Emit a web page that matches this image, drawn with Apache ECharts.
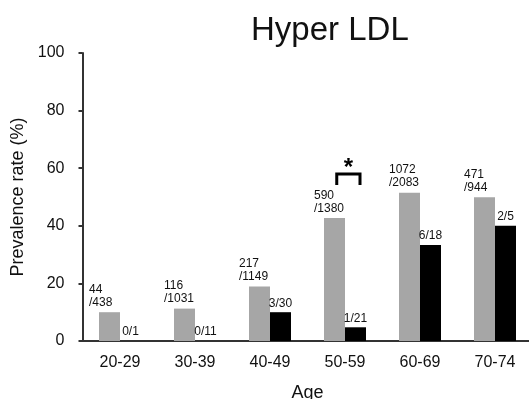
<!DOCTYPE html>
<html><head><meta charset="utf-8">
<script src="https://cdn.jsdelivr.net/npm/echarts@6/dist/echarts.min.js"></script>
<style>html,body{margin:0;padding:0;background:#fff}#c{width:529px;height:399px}</style>
</head><body><div id="c"></div>
<script>
var categories = ['20-29','30-39','40-49','50-59','60-69','70-74'];
var grayValues = [10.0, 11.25, 18.9, 42.75, 51.5, 49.9];
var blackValues = [0, 0, 10.0, 4.76, 33.3, 40.0];
var grayLabels = ['44\n/438','116\n/1031','217\n/1149','590\n/1380','1072\n/2083','471\n/944'];
var blackLabels = ['0/1','0/11','3/30','1/21','6/18','2/5'];
var yTicks = [0,20,40,60,80,100];
var sigCategory = 3; var sigBracketTop = 58; var sigBracketBottom = 54.2; var sigStar = '*';

var font = '"Liberation Sans", Arial, sans-serif';
var chart = echarts.init(document.getElementById('c'));
var option = {
  animation: false,
  title: { text: 'Hyper LDL', left: 246, top: 9, textStyle: { fontFamily: font, fontSize: 33, fontWeight: 'normal', color: '#111' } },
  grid: { left: 82.5, right: -3.5, top: 53, bottom: 58, containLabel: false, outerBoundsMode: 'none' },
  xAxis: {
    type: 'category', data: categories,
    axisLine: { lineStyle: { color: '#333', width: 2 } },
    axisTick: { show: false },
    axisLabel: { fontFamily: font, fontSize: 16, color: '#111', margin: 14 },
    name: 'Age', nameLocation: 'middle', nameGap: 43,
    nameTextStyle: { fontFamily: font, fontSize: 18, color: '#111' }
  },
  yAxis: {
    type: 'value', min: 0, max: 100, interval: 20,
    axisLine: { show: true, lineStyle: { color: '#333', width: 2 } },
    axisTick: { show: true, length: 4, lineStyle: { color: '#333', width: 2 } },
    splitLine: { show: false },
    axisLabel: { fontFamily: font, fontSize: 16, color: '#111', margin: 18,
      formatter: function (v) { return yTicks.indexOf(v) >= 0 ? String(v) : ''; } },
    name: 'Prevalence rate (%)', nameLocation: 'middle', nameGap: 50, nameRotate: 90,
    nameTextStyle: { fontFamily: font, fontSize: 18, color: '#111' }
  },
  series: [
    { type: 'bar', data: grayValues, barWidth: '28%', barGap: '0%', barCategoryGap: '44%',
      itemStyle: { color: '#a6a6a6' },
      label: { show: true, position: [-10, -29], align: 'left', verticalAlign: 'top',
        fontFamily: font, fontSize: 12, lineHeight: 13, color: '#111',
        formatter: function (p) { return grayLabels[p.dataIndex]; } } },
    { type: 'bar', data: blackValues, barWidth: '28%', barGap: '0%',
      itemStyle: { color: '#000' },
      label: { show: true, position: 'top', distance: 3,
        fontFamily: font, fontSize: 12, color: '#111',
        formatter: function (p) { return blackLabels[p.dataIndex]; } } }
  ]
};
chart.setOption(option);

function drawBracket() {
  var c0 = chart.convertToPixel({ gridIndex: 0 }, [0, 0]);
  var c1 = chart.convertToPixel({ gridIndex: 0 }, [1, 0]);
  var band = c1[0] - c0[0];
  var top = chart.convertToPixel({ gridIndex: 0 }, [sigCategory, sigBracketTop]);
  var bot = chart.convertToPixel({ gridIndex: 0 }, [sigCategory, sigBracketBottom]);
  var cx = top[0] + band * 0.045;
  var xl = cx - band * 0.155, xr = cx + band * 0.155;
  chart.setOption({ graphic: [
    { type: 'polyline', shape: { points: [[xl, bot[1]], [xl, top[1]], [xr, top[1]], [xr, bot[1]]] },
      style: { stroke: '#000', lineWidth: 3, fill: null } },
    { type: 'text', x: cx, y: top[1] + 6, style: { text: sigStar, fontFamily: font, fontSize: 24, fontWeight: 'bold', fill: '#000', align: 'center', verticalAlign: 'bottom' } }
  ] });
}
drawBracket();
</script>
</body></html>
